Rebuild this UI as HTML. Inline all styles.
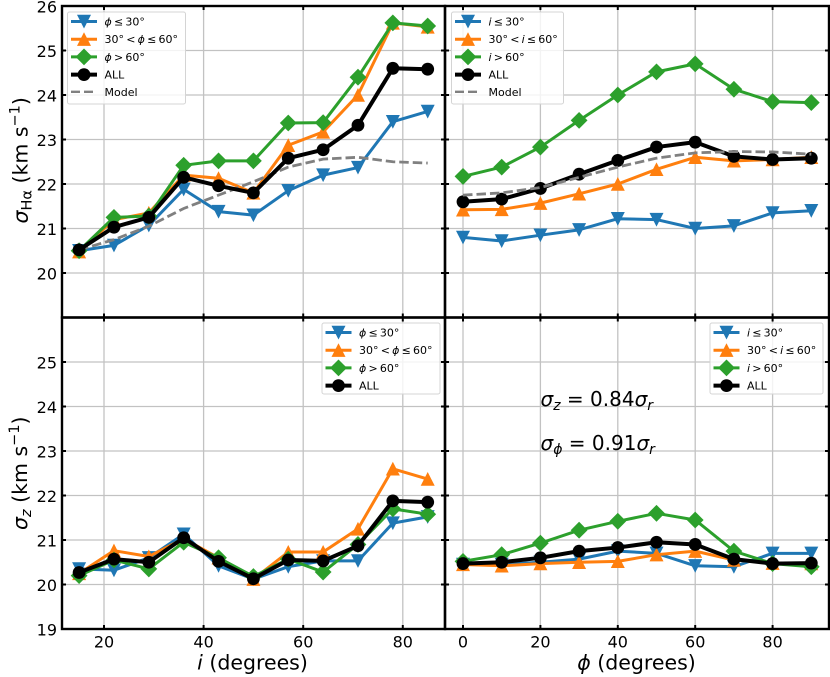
<!DOCTYPE html>
<html lang="en">
<head>
<meta charset="utf-8">
<title>Velocity dispersion chart</title>
<style>
html,body{margin:0;padding:0;background:#fff;}
svg{display:block;font-family:"DejaVu Sans","Liberation Sans",sans-serif;}
text{fill:#000;}
.i{font-style:italic;}
</style>
</head>
<body>
<svg id="chart" xmlns="http://www.w3.org/2000/svg" width="830" height="677" viewBox="0 0 830 677">
<rect x="0" y="0" width="830" height="677" fill="#fff"/>
<g id="layer"></g>
<text transform="translate(27.5,223.5) rotate(-90)" font-size="20.5"><tspan class="i">σ</tspan><tspan font-size="14.5" dy="4">Hα</tspan><tspan dy="-4"> (km s</tspan><tspan font-size="14.5" dy="-8">−1</tspan><tspan dy="8">)</tspan></text>
<text transform="translate(27,530) rotate(-90)" font-size="20.5"><tspan class="i">σ</tspan><tspan class="i" font-size="14.5" dy="4">z</tspan><tspan dy="-4"> (km s</tspan><tspan font-size="14.5" dy="-8">−1</tspan><tspan dy="8">)</tspan></text>
<text x="252.5" y="669.5" font-size="20.5" text-anchor="middle"><tspan class="i">i</tspan> (degrees)</text>
<text x="636.5" y="669.5" font-size="20.5" text-anchor="middle"><tspan class="i">ϕ</tspan> (degrees)</text>
<text x="540.5" y="406" font-size="20"><tspan class="i">σ</tspan><tspan class="i" font-size="14" dy="4">z</tspan><tspan dy="-4"> = 0.84</tspan><tspan class="i">σ</tspan><tspan class="i" font-size="14" dy="4">r</tspan></text>
<text x="540.5" y="450" font-size="20"><tspan class="i">σ</tspan><tspan class="i" font-size="14" dy="4">ϕ</tspan><tspan dy="-4"> = 0.91</tspan><tspan class="i">σ</tspan><tspan class="i" font-size="14" dy="4">r</tspan></text>
</svg>
<script>
const inclinationBins = [15, 22, 29, 36, 43, 50, 57, 64, 71, 78, 85];
const azimuthBins = [0, 10, 20, 30, 40, 50, 60, 70, 80, 90];

const haByInclinationLowPhi = [20.5, 20.62, 21.07, 21.88, 21.38, 21.3, 21.85, 22.2, 22.37, 23.4, 23.63];
const haByInclinationMidPhi = [20.48, 21.2, 21.35, 22.2, 22.13, 21.8, 22.87, 23.17, 24.0, 25.62, 25.53];
const haByInclinationHighPhi = [20.5, 21.25, 21.28, 22.42, 22.52, 22.52, 23.37, 23.38, 24.4, 25.62, 25.55];
const haByInclinationAll = [20.52, 21.03, 21.25, 22.15, 21.96, 21.8, 22.58, 22.77, 23.32, 24.6, 24.58];
const haByInclinationModel = [20.52, 20.75, 21.05, 21.45, 21.75, 22.05, 22.38, 22.56, 22.6, 22.5, 22.47];

const haByAzimuthLowI = [20.8, 20.72, 20.85, 20.97, 21.22, 21.2, 21.0, 21.06, 21.35, 21.4];
const haByAzimuthMidI = [21.42, 21.43, 21.57, 21.78, 22.0, 22.33, 22.6, 22.52, 22.55, 22.6];
const haByAzimuthHighI = [22.17, 22.38, 22.83, 23.43, 24.0, 24.52, 24.7, 24.13, 23.85, 23.83];
const haByAzimuthAll = [21.6, 21.66, 21.9, 22.22, 22.53, 22.83, 22.94, 22.62, 22.55, 22.58];
const haByAzimuthModel = [21.75, 21.8, 21.92, 22.15, 22.38, 22.58, 22.7, 22.73, 22.72, 22.67];

const zByInclinationLowPhi = [20.35, 20.32, 20.6, 21.13, 20.42, 20.12, 20.4, 20.53, 20.53, 21.38, 21.52];
const zByInclinationMidPhi = [20.25, 20.76, 20.63, 21.03, 20.6, 20.12, 20.73, 20.73, 21.25, 22.6, 22.37];
const zByInclinationHighPhi = [20.2, 20.55, 20.35, 20.95, 20.6, 20.18, 20.57, 20.28, 20.9, 21.7, 21.58];
const zByInclinationAll = [20.27, 20.57, 20.5, 21.05, 20.52, 20.13, 20.55, 20.53, 20.87, 21.88, 21.85];

const zByAzimuthLowI = [20.45, 20.45, 20.5, 20.57, 20.75, 20.7, 20.42, 20.4, 20.7, 20.7];
const zByAzimuthMidI = [20.45, 20.42, 20.47, 20.5, 20.52, 20.67, 20.75, 20.55, 20.48, 20.47];
const zByAzimuthHighI = [20.52, 20.67, 20.93, 21.22, 21.42, 21.6, 21.45, 20.75, 20.47, 20.4];
const zByAzimuthAll = [20.47, 20.5, 20.6, 20.75, 20.83, 20.95, 20.9, 20.57, 20.47, 20.48];

const inclinationTicks = [20, 40, 60, 80];
const azimuthTicks = [0, 20, 40, 60, 80];
const topYTicks = [20, 21, 22, 23, 24, 25, 26];
const bottomYTicks = [19, 20, 21, 22, 23, 24, 25];

const NS = 'http://www.w3.org/2000/svg';
const layer = document.getElementById('layer');
const BLUE = '#1f77b4', ORANGE = '#ff7f0e', GREEN = '#2ca02c', BLACK = '#000', GREY = 'gray';
const L = 62, M = 445, R = 829, T = 6, C = 317.5, B = 629;

function xInclination(v) { return 104 + (v - 20) * 4.98; }
function xAzimuth(v) { return 463 + v * 3.87; }
function yTop(v) { return T + (26 - v) * 44.5; }
function yBottom(v) { return C + (26 - v) * 44.5; }

function el(tag, attrs, parent) {
  const n = document.createElementNS(NS, tag);
  for (const k in attrs) n.setAttribute(k, attrs[k]);
  (parent || layer).appendChild(n);
  return n;
}

function drawMarker(kind, x, y, color, parent) {
  let m;
  if (kind === 'down') {
    m = el('polygon', { points: [x - 7, y - 6.7, x + 7, y - 6.7, x, y + 7].join(','), fill: color }, parent);
  } else if (kind === 'up') {
    m = el('polygon', { points: [x - 7, y + 6.7, x + 7, y + 6.7, x, y - 7].join(','), fill: color }, parent);
  } else if (kind === 'diamond') {
    m = el('polygon', { points: [x - 8.4, y, x, y - 8.4, x + 8.4, y, x, y + 8.4].join(','), fill: color }, parent);
  } else {
    m = el('circle', { cx: x, cy: y, r: 6.4, fill: color }, parent);
  }
  
  
}

function drawSeries(name, xs, ys, fx, fy, color, kind, width) {
  const g = el('g', {});
  
  
  const pts = xs.map(function (v, i) { return fx(v) + ',' + fy(ys[i]); }).join(' ');
  el('polyline', { points: pts, fill: 'none', stroke: color, 'stroke-width': width, 'stroke-linejoin': 'round' }, g);
  xs.forEach(function (v, i) { drawMarker(kind, fx(v), fy(ys[i]), color, g); });
}

function drawModel(name, xs, ys, fx, fy) {
  const pts = xs.map(function (v, i) { return fx(v) + ',' + fy(ys[i]); }).join(' ');
  const line = el('polyline', { points: pts, fill: 'none', stroke: GREY, 'stroke-width': 2.8, 'stroke-dasharray': '9.5,4' });
  
  
}

function drawGrid(x0, x1, y0, y1, xTicks, yTicks, fx, fy) {
  xTicks.forEach(function (v) {
    const g = el('line', { x1: fx(v), x2: fx(v), y1: y0, y2: y1, stroke: '#c2c2c2', 'stroke-width': 1.3 });
    
    
  });
  yTicks.forEach(function (v) {
    const g = el('line', { x1: x0, x2: x1, y1: fy(v), y2: fy(v), stroke: '#c2c2c2', 'stroke-width': 1.3 });
    
    
  });
}

function drawTicks(x0, x1, y0, y1, xTicks, yTicks, fx, fy) {
  const len = 4;
  xTicks.forEach(function (v) {
    [[y0, y0 + len], [y1, y1 - len]].forEach(function (p) {
      const t = el('line', { x1: fx(v), x2: fx(v), y1: p[0], y2: p[1], stroke: '#000', 'stroke-width': 2 });
      
      
    });
  });
  yTicks.forEach(function (v) {
    [[x0, x0 + len], [x1, x1 - len]].forEach(function (p) {
      const t = el('line', { x1: p[0], x2: p[1], y1: fy(v), y2: fy(v), stroke: '#000', 'stroke-width': 2 });
      
      
    });
  });
}

function drawFrame(x0, x1, y0, y1, name) {
  const r = el('rect', { x: x0, y: y0, width: x1 - x0, height: y1 - y0, fill: 'none', stroke: '#000', 'stroke-width': 2.4 });
  
  
}

function drawXLabels(ticks, fx) {
  ticks.forEach(function (v) {
    const t = el('text', { x: fx(v), y: 647.5, 'font-size': 16, 'text-anchor': 'middle' });
    t.textContent = String(v);
    
    
  });
}

function drawYLabels(ticks, fy) {
  ticks.forEach(function (v) {
    const t = el('text', { x: 57, y: fy(v) + 6.3, 'font-size': 16, 'text-anchor': 'end' });
    t.textContent = String(v);
    
    
  });
}

function drawLegend(name, x, y, w, sym, hasModel) {
  const g = el('g', {});
  
  
  const h = hasModel ? 92 : 71;
  el('rect', { x: x, y: y, width: w, height: h, rx: 2, fill: '#fff', 'fill-opacity': 0.8, stroke: '#d4d4d4', 'stroke-width': 1 }, g);
  const colors = [BLUE, ORANGE, GREEN, BLACK];
  const kinds = ['down', 'up', 'diamond', 'circle'];
  const widths = [3, 3, 3, 4];
  const labels = [
    '<tspan class="i">' + sym + '</tspan>\u2009≤\u200930°',
    '30°\u2009&lt;\u2009<tspan class="i">' + sym + '</tspan>\u2009≤\u200960°',
    '<tspan class="i">' + sym + '</tspan>\u2009&gt;\u200960°',
    'ALL'
  ];
  const hx0 = x + 3.5, hx1 = x + 29.5, tx = x + 37;
  for (let i = 0; i < 4; i++) {
    const ry = y + 9.5 + i * 17.7;
    el('line', { x1: hx0, x2: hx1, y1: ry, y2: ry, stroke: colors[i], 'stroke-width': widths[i] }, g);
    drawMarker(kinds[i], (hx0 + hx1) / 2, ry, colors[i], g);
    const t = el('text', { x: tx, y: ry + 4, 'font-size': 11 }, g);
    t.innerHTML = labels[i];
    
    
  }
  if (hasModel) {
    const ry = y + 9.5 + 4 * 17.7 - 0.5;
    el('line', { x1: hx0, x2: hx1, y1: ry, y2: ry, stroke: GREY, 'stroke-width': 2.4, 'stroke-dasharray': '9,4' }, g);
    const t = el('text', { x: tx, y: ry + 4, 'font-size': 11 }, g);
    t.textContent = 'Model';
    
    
  }
}

/* grids */
drawGrid(L, M, T, C, inclinationTicks, topYTicks, xInclination, yTop);
drawGrid(M, R, T, C, azimuthTicks, topYTicks, xAzimuth, yTop);
drawGrid(L, M, C, B, inclinationTicks, bottomYTicks, xInclination, yBottom);
drawGrid(M, R, C, B, azimuthTicks, bottomYTicks, xAzimuth, yBottom);

/* top-left panel */
drawSeries('ha-inclination-low-phi', inclinationBins, haByInclinationLowPhi, xInclination, yTop, BLUE, 'down', 3);
drawSeries('ha-inclination-mid-phi', inclinationBins, haByInclinationMidPhi, xInclination, yTop, ORANGE, 'up', 3);
drawSeries('ha-inclination-high-phi', inclinationBins, haByInclinationHighPhi, xInclination, yTop, GREEN, 'diamond', 3);
drawModel('ha-inclination-model', inclinationBins, haByInclinationModel, xInclination, yTop);
drawSeries('ha-inclination-all', inclinationBins, haByInclinationAll, xInclination, yTop, BLACK, 'circle', 4);

/* top-right panel */
drawSeries('ha-azimuth-low-i', azimuthBins, haByAzimuthLowI, xAzimuth, yTop, BLUE, 'down', 3);
drawSeries('ha-azimuth-mid-i', azimuthBins, haByAzimuthMidI, xAzimuth, yTop, ORANGE, 'up', 3);
drawSeries('ha-azimuth-high-i', azimuthBins, haByAzimuthHighI, xAzimuth, yTop, GREEN, 'diamond', 3);
drawSeries('ha-azimuth-all', azimuthBins, haByAzimuthAll, xAzimuth, yTop, BLACK, 'circle', 4);
drawModel('ha-azimuth-model', azimuthBins, haByAzimuthModel, xAzimuth, yTop);

/* bottom-left panel */
drawSeries('z-inclination-low-phi', inclinationBins, zByInclinationLowPhi, xInclination, yBottom, BLUE, 'down', 3);
drawSeries('z-inclination-mid-phi', inclinationBins, zByInclinationMidPhi, xInclination, yBottom, ORANGE, 'up', 3);
drawSeries('z-inclination-high-phi', inclinationBins, zByInclinationHighPhi, xInclination, yBottom, GREEN, 'diamond', 3);
drawSeries('z-inclination-all', inclinationBins, zByInclinationAll, xInclination, yBottom, BLACK, 'circle', 4);

/* bottom-right panel */
drawSeries('z-azimuth-low-i', azimuthBins, zByAzimuthLowI, xAzimuth, yBottom, BLUE, 'down', 3);
drawSeries('z-azimuth-mid-i', azimuthBins, zByAzimuthMidI, xAzimuth, yBottom, ORANGE, 'up', 3);
drawSeries('z-azimuth-high-i', azimuthBins, zByAzimuthHighI, xAzimuth, yBottom, GREEN, 'diamond', 3);
drawSeries('z-azimuth-all', azimuthBins, zByAzimuthAll, xAzimuth, yBottom, BLACK, 'circle', 4);

/* ticks and frames */
drawTicks(L, M, T, C, inclinationTicks, topYTicks, xInclination, yTop);
drawTicks(M, R, T, C, azimuthTicks, topYTicks, xAzimuth, yTop);
drawTicks(L, M, C, B, inclinationTicks, bottomYTicks, xInclination, yBottom);
drawTicks(M, R, C, B, azimuthTicks, bottomYTicks, xAzimuth, yBottom);
drawFrame(L, M, T, C, 'top-left-panel-frame');
drawFrame(M, R, T, C, 'top-right-panel-frame');
drawFrame(L, M, C, B, 'bottom-left-panel-frame');
drawFrame(M, R, C, B, 'bottom-right-panel-frame');

/* tick labels */
drawXLabels(inclinationTicks, xInclination);
drawXLabels(azimuthTicks, xAzimuth);
drawYLabels(topYTicks, yTop);
drawYLabels(bottomYTicks, yBottom);

/* legends */
drawLegend('top-left-legend', 67.5, 12, 118, 'ϕ', true);
drawLegend('top-right-legend', 451.5, 12, 112, 'i', true);
drawLegend('bottom-left-legend', 322, 323, 118, 'ϕ', false);
drawLegend('bottom-right-legend', 710, 323, 113, 'i', false);
</script>
</body>
</html>
